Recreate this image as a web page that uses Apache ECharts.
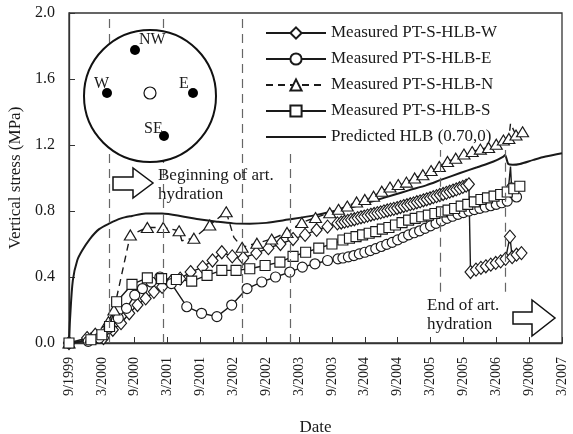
<!DOCTYPE html>
<html>
<head>
<meta charset="utf-8">
<script src="https://cdn.jsdelivr.net/npm/echarts@6/dist/echarts.min.js"></script>
<style>
  html, body { margin: 0; padding: 0; background: #fff; }
  #chart { width: 573px; height: 434px; }
</style>
</head>
<body>
<div id="chart"></div>
<script>
// x values are months after September 1999, y values are vertical stress in MPa
const tickLabels = ['9/1999', '3/2000', '9/2000', '3/2001', '9/2001', '3/2002', '9/2002', '3/2003',
  '9/2003', '3/2004', '9/2004', '3/2005', '9/2005', '3/2006', '9/2006', '3/2007'];

const measuredW = [
  [0, 0], [3.3, 0.03], [4.8, 0.05], [6.3, 0.03], [8, 0.08], [9.5, 0.12], [11, 0.18], [12.5, 0.23],
  [14, 0.27], [15.5, 0.31], [17, 0.34], [18.6, 0.37], [20.3, 0.39], [22.2, 0.43], [24.4, 0.46],
  [26.2, 0.5], [27.9, 0.55], [29.8, 0.525], [31.8, 0.515], [34.2, 0.545], [36.4, 0.575], [38.6, 0.6],
  [40.9, 0.63], [43.1, 0.655], [45.2, 0.685], [47.2, 0.705], [49, 0.725],
  [49.7, 0.73], [50.3, 0.735], [50.9, 0.74], [51.5, 0.746], [52.1, 0.75], [52.7, 0.757], [53.3, 0.762],
  [53.9, 0.766], [54.5, 0.772], [55.1, 0.777], [55.7, 0.782], [56.3, 0.787], [56.9, 0.792], [57.5, 0.798],
  [58.1, 0.803], [58.7, 0.808], [59.3, 0.813], [59.9, 0.818], [60.5, 0.824], [61.1, 0.83], [61.7, 0.835],
  [62.3, 0.841], [62.9, 0.846], [63.5, 0.853], [64.1, 0.858], [64.7, 0.865], [65.3, 0.871], [65.9, 0.877],
  [66.5, 0.884], [67.1, 0.89], [67.7, 0.897], [68.3, 0.903], [68.9, 0.91], [69.5, 0.917], [70.1, 0.924],
  [70.7, 0.931], [71.3, 0.938], [71.9, 0.946], [72.5, 0.954], [73.0, 0.962],
  [73.3, 0.43], [74.3, 0.445], [75.2, 0.455], [76.1, 0.465], [77, 0.475], [77.9, 0.485], [78.8, 0.495],
  [79.7, 0.51], [80.5, 0.645], [80.9, 0.52], [81.7, 0.535], [82.6, 0.545]
];

const measuredE = [
  [0, 0], [3.5, 0.01], [5.5, 0.03], [7.3, 0.09], [9, 0.15], [10.5, 0.21], [12, 0.29], [13.4, 0.33],
  [15, 0.37], [16.6, 0.4], [18.7, 0.36], [21.5, 0.22], [24.2, 0.18], [27, 0.16], [29.7, 0.23],
  [32.5, 0.33], [35.2, 0.37], [37.7, 0.4], [40.3, 0.43], [42.6, 0.46], [44.9, 0.48], [47.2, 0.5],
  [49.1, 0.51], [50, 0.515], [51, 0.522], [52, 0.53], [53, 0.54], [54, 0.55], [55, 0.56], [56, 0.572],
  [57, 0.585], [58, 0.598], [59, 0.61], [60, 0.625], [61, 0.64], [62, 0.655], [63, 0.668], [64, 0.68],
  [65, 0.695], [66, 0.71], [67, 0.725], [68, 0.74], [69, 0.755], [70, 0.768], [71, 0.78], [72, 0.79],
  [73, 0.8], [74, 0.808], [75, 0.816], [76, 0.824], [77, 0.832], [78, 0.84], [79, 0.85], [80, 0.86],
  [80.8, 0.94], [81.7, 0.885]
];
const spikesE = [[80.6, 1.07]];

const measuredN = [
  [0, 0], [4, 0.03], [7.2, 0.13], [8.2, 0.2], [11.2, 0.655], [14.3, 0.7], [17.2, 0.7], [20.1, 0.68],
  [22.8, 0.635], [25.7, 0.715], [28.7, 0.795], [31.6, 0.58], [34.3, 0.605], [37, 0.63], [39.8, 0.67],
  [42.5, 0.73], [45, 0.76], [47.6, 0.79], [49.2, 0.81], [50.8, 0.83], [52.5, 0.855], [54, 0.87],
  [55.6, 0.89], [57.1, 0.92], [58.6, 0.945], [60.1, 0.96], [61.6, 0.975], [63.1, 1.0], [64.6, 1.02],
  [66.1, 1.045], [67.6, 1.07], [69.1, 1.1], [70.6, 1.12], [72.1, 1.145], [73.6, 1.16], [75.1, 1.175],
  [76.6, 1.185], [78, 1.205], [79.3, 1.23], [80.3, 1.24], [81.6, 1.26], [82.8, 1.28]
];
const spikesN = [[20.6, 0.62], [30.1, 0.64], [80.6, 1.33]];

const measuredS = [
  [0, 0], [4, 0.02], [6, 0.05], [7.4, 0.1], [8.7, 0.25], [11.5, 0.355], [14.3, 0.395], [16.9, 0.39],
  [19.6, 0.385], [22.4, 0.375], [25.2, 0.41], [27.9, 0.44], [30.5, 0.44], [33, 0.45], [35.8, 0.47],
  [38.5, 0.49], [40.9, 0.525], [43.2, 0.55], [45.6, 0.575], [48, 0.6], [50, 0.624], [51.2, 0.635],
  [52.4, 0.645], [53.6, 0.655], [54.8, 0.665], [56, 0.675], [57.2, 0.69], [58.4, 0.7], [59.6, 0.715],
  [60.8, 0.73], [62, 0.745], [63.2, 0.755], [64.4, 0.765], [65.6, 0.775], [66.8, 0.785], [68, 0.795],
  [69.2, 0.805], [70.4, 0.815], [71.6, 0.83], [72.8, 0.84], [74, 0.855], [75.2, 0.87], [76.4, 0.88],
  [77.6, 0.89], [78.8, 0.9], [80, 0.915], [81.2, 0.935], [82.3, 0.95]
];

const predictedHLB = [
  [0, 0], [0.2, 0.15], [0.7, 0.38], [1.5, 0.5], [2.4, 0.56], [3.8, 0.63], [5.5, 0.69], [7.4, 0.725],
  [9.5, 0.755], [11.5, 0.77], [14, 0.785], [17, 0.785], [21, 0.765], [24, 0.748], [27, 0.735],
  [30, 0.725], [33, 0.723], [36, 0.728], [40, 0.748], [45, 0.775], [50, 0.81], [53, 0.835], [56, 0.865],
  [59.2, 0.897], [62, 0.925], [65.3, 0.957], [68, 0.99], [71.4, 1.03], [74.5, 1.065], [77.5, 1.1],
  [79.3, 1.13], [79.6, 1.14], [80.2, 1.085], [81, 1.08], [82.3, 1.085], [84.8, 1.11], [87, 1.13], [90, 1.15]
];

// hydration events: [month, lower stress, upper stress] of each dashed marker
const eventLines = [
  [7.4, 0, 2], [17.2, 0, 2], [31.7, 0, 2], [40.3, 0, 1.17], [67.7, 0.31, 1.17], [79.6, 0.31, 1.17]
];

const FONT = 'Liberation Serif';
const INK = '#1a1a1a';

function withSpikes(points, spikes) {
  const items = points.map(p => ({ value: p }));
  (spikes || []).forEach(p => items.push({ value: p, symbol: 'none' }));
  return items.sort((a, b) => a.value[0] - b.value[0]);
}

function measured(name, points, spikes, symbol, size, dashed) {
  return {
    name: name,
    type: 'line',
    data: withSpikes(points, spikes),
    symbol: symbol,
    symbolSize: size,
    showAllSymbol: true,
    smooth: false,
    lineStyle: { color: INK, width: 1.4, type: dashed ? [7, 5] : 'solid' },
    itemStyle: { color: '#fff', borderColor: INK, borderWidth: 1.15 },
    emphasis: { disabled: true },
    animation: false
  };
}

const chart = echarts.init(document.getElementById('chart'), null, { renderer: 'canvas' });

const series = [
  {
    name: 'Predicted HLB (0.70,0)',
    type: 'line',
    data: predictedHLB,
    symbol: 'none',
    smooth: 0.3,
    lineStyle: { color: INK, width: 2 },
    itemStyle: { color: INK },
    emphasis: { disabled: true },
    animation: false,
    z: 1,
    markLine: {
      silent: true,
      symbol: 'none',
      label: { show: false },
      lineStyle: { color: '#666', width: 1.2, type: [9, 6] },
      data: eventLines.map(e => [{ coord: [e[0], e[1]] }, { coord: [e[0], e[2]] }])
    }
  },
  measured('Measured PT-S-HLB-W', measuredW, null, 'diamond', [11, 13], false),
  measured('Measured PT-S-HLB-E', measuredE, spikesE, 'circle', 10, false),
  measured('Measured PT-S-HLB-N', measuredN, spikesN, 'triangle', [12, 10], true),
  measured('Measured PT-S-HLB-S', measuredS, null, 'rect', 10, false)
];

chart.setOption({
  animation: false,
  backgroundColor: '#fff',
  textStyle: { fontFamily: FONT, color: INK },
  grid: {
    left: 69, right: 11, top: 13, bottom: 91,
    show: true, borderColor: '#333', borderWidth: 1.3, backgroundColor: 'transparent',
    outerBoundsMode: 'none'
  },
  xAxis: {
    type: 'value',
    min: 0, max: 90, interval: 6,
    name: 'Date',
    nameLocation: 'middle',
    nameGap: 76,
    nameTextStyle: { fontFamily: FONT, fontSize: 17, color: INK },
    axisLine: { show: true, lineStyle: { color: '#333', width: 1.3 } },
    axisTick: { show: true, inside: true, length: 6, lineStyle: { color: '#333' } },
    axisLabel: {
      rotate: 90, fontFamily: FONT, fontSize: 14, color: INK, margin: 14,
      formatter: v => tickLabels[Math.round(v / 6)] || ''
    },
    splitLine: { show: false }
  },
  yAxis: {
    type: 'value',
    min: 0, max: 2, interval: 0.4,
    name: 'Vertical stress (MPa)',
    nameLocation: 'middle',
    nameGap: 41,
    nameTextStyle: { fontFamily: FONT, fontSize: 17, color: INK },
    axisLine: { show: true, lineStyle: { color: '#333', width: 1.3 } },
    axisTick: { show: true, inside: true, length: 6, lineStyle: { color: '#333' } },
    axisLabel: { fontFamily: FONT, fontSize: 16, color: INK, margin: 14, formatter: v => v.toFixed(1) },
    splitLine: { show: false }
  },
  legend: {
    orient: 'vertical',
    left: 260, top: 19,
    itemWidth: 60, itemHeight: 14, itemGap: 8,
    textStyle: { fontFamily: FONT, fontSize: 17, color: INK, lineHeight: 18 },
    selectedMode: false,
    data: ['Measured PT-S-HLB-W', 'Measured PT-S-HLB-E', 'Measured PT-S-HLB-N',
      'Measured PT-S-HLB-S', { name: 'Predicted HLB (0.70,0)', itemStyle: { opacity: 0 } }]
  },
  series: series,
  graphic: [
    // cross-section of the test section with sensor locations
    { type: 'circle', z: 50, shape: { cx: 150, cy: 96, r: 66 },
      style: { fill: '#fff', stroke: '#111', lineWidth: 2 } },
    { type: 'circle', z: 51, shape: { cx: 135, cy: 50, r: 5 }, style: { fill: '#000' } },
    { type: 'circle', z: 51, shape: { cx: 107, cy: 93, r: 5 }, style: { fill: '#000' } },
    { type: 'circle', z: 51, shape: { cx: 193, cy: 93, r: 5 }, style: { fill: '#000' } },
    { type: 'circle', z: 51, shape: { cx: 164, cy: 136, r: 5 }, style: { fill: '#000' } },
    { type: 'circle', z: 51, shape: { cx: 150, cy: 93, r: 6 }, style: { fill: '#fff', stroke: '#111', lineWidth: 1.2 } },
    { type: 'text', z: 52, left: 139, top: 32, style: { text: 'NW', font: '16px "Liberation Serif"', fill: INK } },
    { type: 'text', z: 52, left: 94, top: 76, style: { text: 'W', font: '16px "Liberation Serif"', fill: INK } },
    { type: 'text', z: 52, left: 179, top: 76, style: { text: 'E', font: '16px "Liberation Serif"', fill: INK } },
    { type: 'text', z: 52, left: 144, top: 121, style: { text: 'SE', font: '16px "Liberation Serif"', fill: INK } },
    // start and end of artificial hydration
    { type: 'polygon', z: 50,
      shape: { points: [[113, 177], [133, 177], [133, 168], [153, 183], [133, 198], [133, 190], [113, 190]] },
      style: { fill: '#fff', stroke: '#111', lineWidth: 1.5 } },
    { type: 'text', z: 50, left: 158, top: 166,
      style: { text: 'Beginning of art.\nhydration', font: '17px "Liberation Serif"', lineHeight: 19, fill: INK } },
    { type: 'polygon', z: 50,
      shape: { points: [[513, 312], [532, 312], [532, 300], [555, 318], [532, 336], [532, 324], [513, 324]] },
      style: { fill: '#fff', stroke: '#111', lineWidth: 1.5 } },
    { type: 'text', z: 50, left: 427, top: 296,
      style: { text: 'End of art.\nhydration', font: '17px "Liberation Serif"', lineHeight: 19, fill: INK } }
  ]
});
</script>
</body>
</html>
